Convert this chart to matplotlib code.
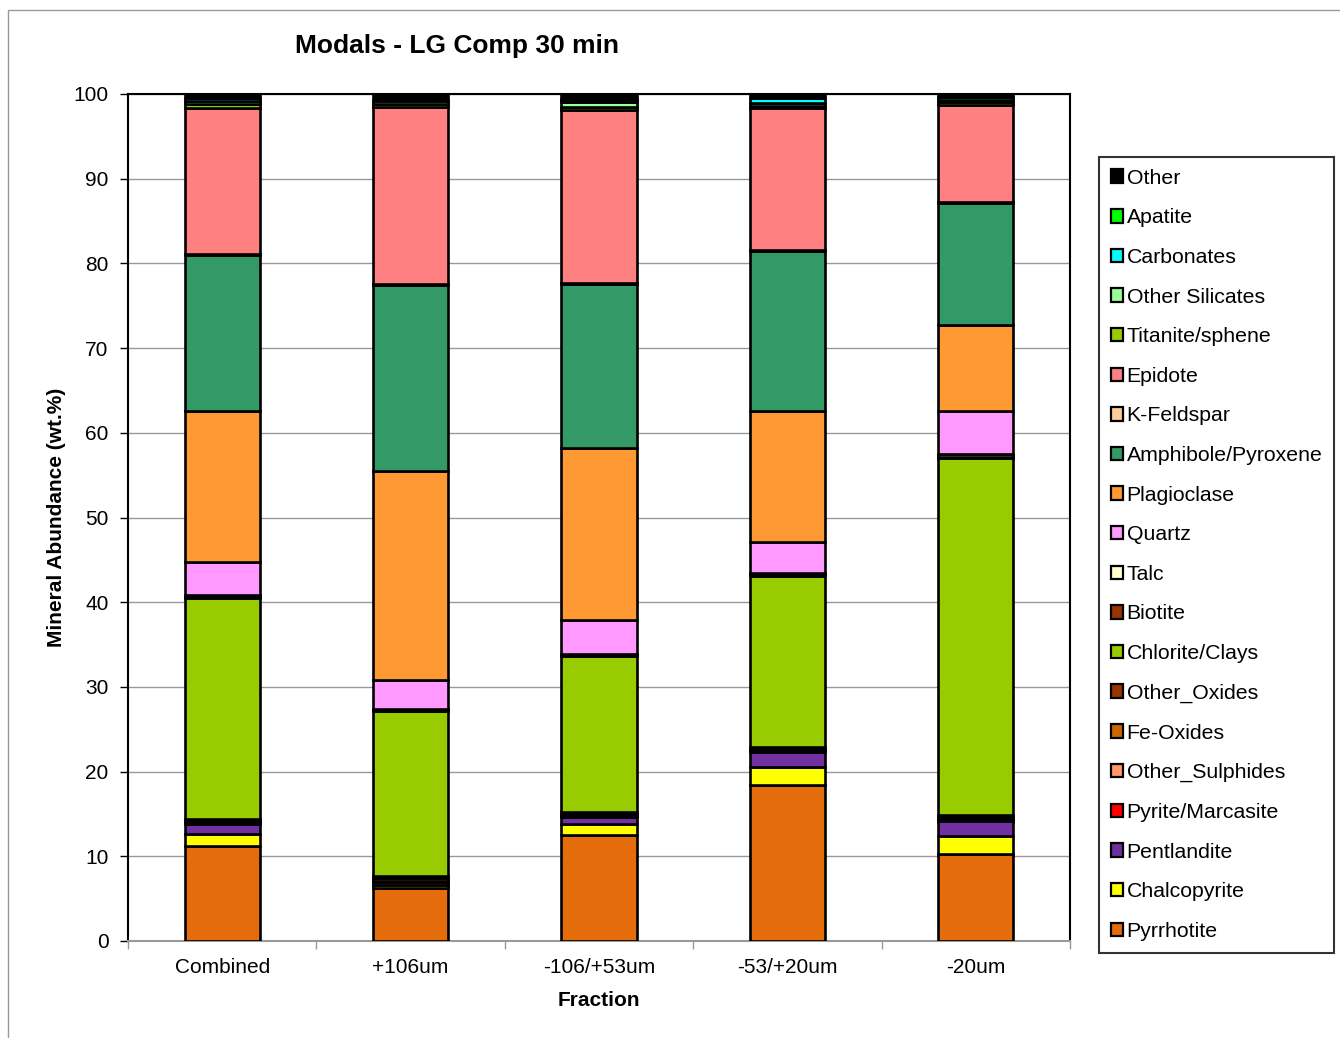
import matplotlib
matplotlib.use("Agg")
import matplotlib.pyplot as plt
from matplotlib.patches import Rectangle, Patch
import numpy as np

plt.rcParams['font.family'] = ['Liberation Sans', 'DejaVu Sans']

categories = ["Combined", "+106um", "-106/+53um", "-53/+20um", "-20um"]

# stacking order bottom -> top
minerals = ["Pyrrhotite", "Chalcopyrite", "Pentlandite", "Pyrite/Marcasite", "Other_Sulphides",
            "Fe-Oxides", "Other_Oxides", "Chlorite/Clays", "Biotite", "Talc", "Quartz",
            "Plagioclase", "Amphibole/Pyroxene", "K-Feldspar", "Epidote", "Titanite/sphene",
            "Other Silicates", "Carbonates", "Apatite", "Other"]

pyrrhotite      = [11.2, 6.2, 12.5, 18.4, 10.3]
chalcopyrite    = [1.4, 0.4, 1.3, 2.1, 2.1]
pentlandite     = [1.2, 0.4, 0.8, 1.8, 1.8]
pyrite          = [0.05, 0.05, 0.05, 0.05, 0.05]
other_sulphides = [0.05, 0.05, 0.05, 0.05, 0.1]
fe_oxides       = [0.3, 0.3, 0.3, 0.3, 0.3]
other_oxides    = [0.2, 0.3, 0.2, 0.2, 0.2]
chlorite_clays  = [26.1, 19.5, 18.5, 20.2, 42.15]
biotite         = [0.1, 0.1, 0.1, 0.1, 0.1]
talc            = [0.3, 0.1, 0.1, 0.2, 0.4]
quartz          = [3.9, 3.4, 4.0, 3.7, 5.1]
plagioclase     = [17.8, 24.7, 20.3, 15.5, 10.1]
amphibole       = [18.4, 22.0, 19.4, 18.9, 14.4]
k_feldspar      = [0.1, 0.1, 0.1, 0.1, 0.1]
epidote         = [17.3, 20.9, 20.4, 16.7, 11.5]
titanite        = [0.4, 0.3, 0.4, 0.3, 0.3]
other_silicates = [0.4, 0.4, 0.5, 0.3, 0.3]
carbonates      = [0.3, 0.05, 0.3, 0.6, 0.3]
apatite         = [0.05, 0.05, 0.1, 0.05, 0.05]
other           = [0.35, 0.6, 0.5, 0.3, 0.4]

values = [pyrrhotite, chalcopyrite, pentlandite, pyrite, other_sulphides, fe_oxides,
          other_oxides, chlorite_clays, biotite, talc, quartz, plagioclase, amphibole,
          k_feldspar, epidote, titanite, other_silicates, carbonates, apatite, other]

colors = ["#E46C0A", "#FFFF00", "#7030A0", "#FF0000", "#FF9966", "#CC6600", "#993300",
          "#99CC00", "#993300", "#FFFFCC", "#FF99FF", "#FF9933", "#339966", "#FFCC99",
          "#FF8080", "#99CC00", "#99FF99", "#00FFFF", "#00FF00", "#000000"]

yticks = [0, 10, 20, 30, 40, 50, 60, 70, 80, 90, 100]

fig = plt.figure(figsize=(13.4, 10.38), dpi=100)
ax = fig.add_axes([128/1340, 1-941/1038, (1070-128)/1340, (941-94)/1038])

x = np.arange(len(categories))
bottom = np.zeros(len(categories))
handles = []
for name, vals, col in zip(minerals, values, colors):
    v = np.array(vals)
    ax.bar(x, v, bottom=bottom, width=0.4, color=col, edgecolor="black",
           linewidth=1.9, zorder=3)
    bottom += v
    handles.append(Patch(facecolor=col, edgecolor="black", linewidth=1.6, label=name))

ax.set_xlim(-0.5, len(categories) - 0.5)
ax.set_ylim(0, 100)
ax.set_yticks(yticks)
ax.set_yticklabels([str(t) for t in yticks], fontsize=15)
ax.yaxis.grid(True, color="#999999", linewidth=1, zorder=0)
ax.set_axisbelow(True)
ax.set_xticks(x)
ax.set_xticklabels(categories, fontsize=15)
ax.tick_params(axis='x', length=0, pad=12)
ax.set_xticks(np.arange(-0.5, len(categories), 1.0), minor=True)
ax.tick_params(axis='x', which='minor', length=6, color="#999999", width=1)
ax.tick_params(axis='y', length=6, width=1, color="black", pad=8)
for side in ["top", "right", "left"]:
    ax.spines[side].set_color("black")
    ax.spines[side].set_linewidth(1.5)
ax.spines["bottom"].set_color("#999999")
ax.spines["bottom"].set_linewidth(1.5)

ax.set_xlabel("Fraction", fontsize=15, fontweight="bold", labelpad=10)
ax.set_ylabel("Mineral Abundance (wt.%)", fontsize=15, fontweight="bold", labelpad=5)
fig.text(457/1340, 1-46/1038, "Modals - LG Comp 30 min", fontsize=19,
         fontweight="bold", ha="center", va="center")

leg = fig.legend(handles=handles[::-1], loc="upper left",
                 bbox_to_anchor=(1099/1340, 1-157/1038), fontsize=15.3,
                 frameon=True, fancybox=False, edgecolor="black",
                 handlelength=0.6, handleheight=0.6, handletextpad=0.15,
                 labelspacing=0.97, borderpad=0.55, borderaxespad=0)
leg.get_frame().set_linewidth(1.5)

# outer chart border
fig.patches.append(Rectangle((8/1340, -0.01), 1.1, 1-10/1038 + 0.01,
                             transform=fig.transFigure, fill=False,
                             edgecolor="#999999", linewidth=1))

fig.savefig("out.png", dpi=100)
